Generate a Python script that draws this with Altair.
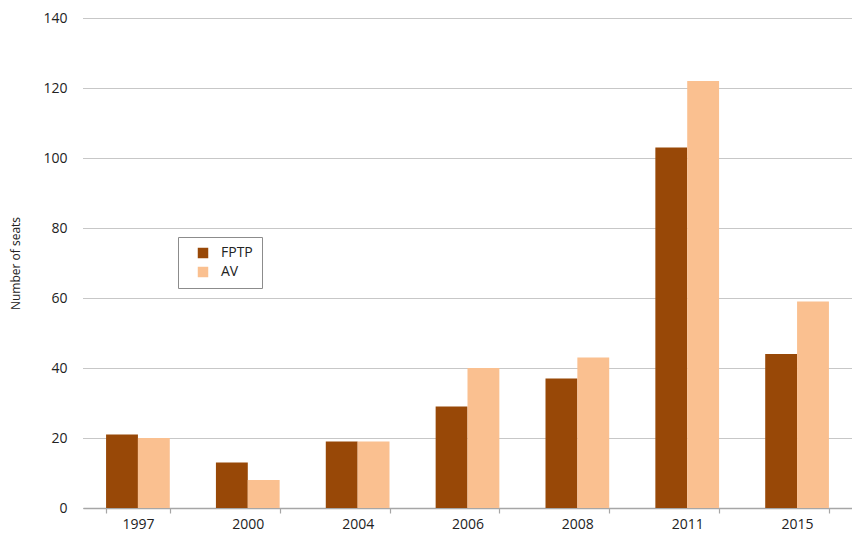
import altair as alt
import pandas as pd

years = ["1997", "2000", "2004", "2006", "2008", "2011", "2015"]
fptp = [21, 13, 19, 29, 37, 103, 44]
av = [20, 8, 19, 40, 43, 122, 59]
series = ["FPTP", "AV"]
colors = ["#984807", "#FAC090"]

rows = []
for i, y in enumerate(years):
    rows.append({"year": y, "system": "FPTP", "seats": fptp[i]})
    rows.append({"year": y, "system": "AV", "seats": av[i]})
df = pd.DataFrame(rows)

FONT = "Open Sans"

chart = alt.Chart(df).mark_bar().encode(
    x=alt.X("year:N", sort=years, title=None,
            scale=alt.Scale(paddingInner=0.42, paddingOuter=0.21),
            axis=alt.Axis(labelAngle=0, tickBand="extent", ticks=True, tickSize=5,
                          tickColor="#a6a6a6", tickWidth=1.2,
                          domainColor="#a6a6a6", domainWidth=1.6,
                          labelFont=FONT, labelFontSize=14, labelColor="#222222",
                          labelPadding=4, grid=False)),
    xOffset=alt.XOffset("system:N", sort=series, scale=alt.Scale(paddingInner=0, paddingOuter=0)),
    y=alt.Y("seats:Q", title="Number of seats",
            scale=alt.Scale(domain=[0, 140], nice=False),
            axis=alt.Axis(values=[0, 20, 40, 60, 80, 100, 120, 140], ticks=False, domain=False,
                          grid=True, gridColor="#8f8f8f", gridDash=[1, 1], gridWidth=1,
                          labelFont=FONT, labelFontSize=14, labelColor="#222222",
                          labelPadding=16, titleFont=FONT, titleFontSize=12,
                          titleFontWeight="normal", titleColor="#222222", titlePadding=20)),
    color=alt.Color("system:N", sort=series, scale=alt.Scale(domain=series, range=colors),
                    legend=alt.Legend(title=None, orient="none", legendX=95, legendY=219,
                                      symbolType="square", symbolSize=110, symbolStrokeWidth=0,
                                      symbolOffset=9,
                                      strokeColor="#8c8c8c", padding=9, rowPadding=5,
                                      labelFont=FONT, labelFontSize=14, labelColor="#222222",
                                      labelOffset=11, fillColor="white")),
).properties(
    width=769, height=490,
    autosize=alt.AutoSizeParams(type="none"),
    padding={"left": 75, "top": 10, "right": 0, "bottom": 26},
).configure_view(stroke=None)

chart.save("out.html", embed_options={"renderer": "svg", "actions": False})
